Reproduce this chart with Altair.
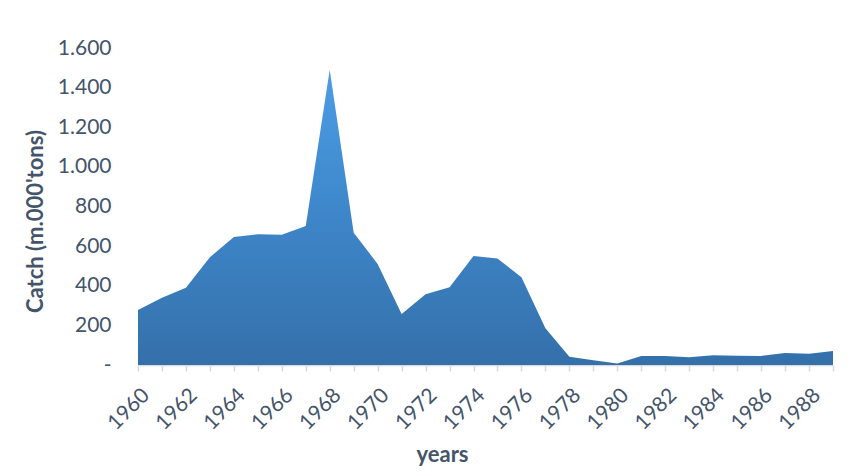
import altair as alt
import pandas as pd

years = list(range(1960, 1990))
catch = [278, 340, 390, 544, 646, 660, 658, 702, 1490, 668,
         510, 258, 357, 392, 550, 537, 443, 185, 42, 24,
         7, 45, 45, 39, 49, 47, 46, 60, 57, 71]

df = pd.DataFrame({"year": years, "catch": catch})

label_color = "#44546A"
font = "Lato"

area = alt.Chart(df).mark_area(
    line=False,
    color=alt.Gradient(
        gradient="linear",
        x1=0, x2=0, y1=0, y2=1,
        stops=[
            alt.GradientStop(color="#4C9DE5", offset=0),
            alt.GradientStop(color="#3F88CC", offset=0.45),
            alt.GradientStop(color="#3470AA", offset=1),
        ],
    ),
).encode(
    x=alt.X(
        "year:O",
        scale=alt.Scale(type="point", padding=0),
        axis=alt.Axis(
            title="years",
            labelAngle=-45,
            labelExpr="datum.value % 2 == 0 ? datum.label : ''",
            labelFont=font,
            labelFontSize=21,
            labelColor=label_color,
            labelPadding=13,
            titleFont=font,
            titleFontSize=22,
            titleFontWeight="bold",
            titleColor=label_color,
            titleX=304,
            titleY=89,
            titleBaseline="middle",
            domainColor="#D9D9D9",
            domainWidth=1.5,
            tickColor="#D9D9D9",
            tickSize=6,
            tickWidth=1.5,
            grid=False,
        ),
    ),
    y=alt.Y(
        "catch:Q",
        scale=alt.Scale(domain=[0, 1600], nice=False),
        axis=alt.Axis(
            title="Catch (m.000'tons)",
            values=[0, 200, 400, 600, 800, 1000, 1200, 1400, 1600],
            labelExpr="datum.value == 0 ? '-\u00a0\u00a0\u00a0' : replace(format(datum.value, ','), ',', '.')",
            labelFont=font,
            labelFontSize=21,
            labelColor=label_color,
            labelPadding=27,
            ticks=False,
            domain=False,
            grid=False,
            titleFont=font,
            titleFontSize=22,
            titleFontWeight="bold",
            titleColor=label_color,
            titleX=-103,
            titleY=173,
            titleBaseline="middle",
        ),
    ),
).properties(
    width=695,
    height=317,
    autosize=alt.AutoSizeParams(type="none"),
    padding={"left": 130, "top": 40, "right": 16, "bottom": 103},
).configure_view(stroke=None)

chart = area
chart.save("out.html", embed_options={"renderer": "svg", "actions": False})
